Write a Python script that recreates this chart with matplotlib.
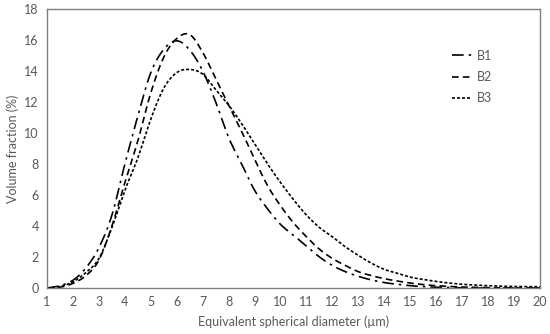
import matplotlib
matplotlib.use("Agg")
import matplotlib.pyplot as plt
import numpy as np

x = [1, 1.5, 2, 2.5, 3, 3.5, 4, 4.5, 5, 5.5, 6, 6.5, 7, 7.5, 8, 8.5, 9, 9.5, 10,
     10.5, 11, 11.5, 12, 12.5, 13, 13.5, 14, 14.5, 15, 15.5, 16, 16.5, 17, 17.5,
     18, 18.5, 19, 19.5, 20]
b1 = [0, 0.15, 0.5, 1.3, 2.6, 4.7, 8.0, 11.1, 13.9, 15.4, 15.95, 15.35, 14.0, 12.0,
      9.7, 8.0, 6.3, 5.1, 4.1, 3.4, 2.7, 2.0, 1.45, 1.05, 0.75, 0.52, 0.35, 0.24,
      0.15, 0.09, 0.05, 0.03, 0.01, 0, 0, 0, 0, 0, 0]
b2 = [0, 0.05, 0.3, 0.8, 1.8, 4.0, 6.8, 9.5, 12.6, 14.9, 16.1, 16.35, 15.2, 13.5,
      11.8, 10.1, 8.3, 6.6, 5.3, 4.2, 3.3, 2.5, 1.9, 1.45, 1.05, 0.8, 0.6, 0.45,
      0.32, 0.22, 0.15, 0.1, 0.06, 0.04, 0.02, 0.01, 0, 0, 0]
b3 = [0, 0.1, 0.4, 1.0, 1.9, 3.9, 6.3, 8.4, 10.9, 12.9, 13.9, 14.1, 13.8, 12.8,
      11.8, 10.6, 9.3, 8.0, 6.8, 5.7, 4.7, 3.9, 3.3, 2.65, 2.1, 1.6, 1.2, 0.95,
      0.7, 0.55, 0.42, 0.32, 0.24, 0.19, 0.15, 0.12, 0.1, 0.09, 0.08]
labels = ["B1", "B2", "B3"]
xticks = list(range(1, 21))
yticks = list(range(0, 19, 2))


def smooth(xs, ys, n=12):
    """Catmull-Rom smoothing through the given points (like a spreadsheet smoothed line)."""
    P = np.column_stack([xs, ys]).astype(float)
    P = np.vstack([2 * P[0] - P[1], P, 2 * P[-1] - P[-2]])
    out = []
    t = np.linspace(0, 1, n, endpoint=False)[:, None]
    for i in range(1, len(P) - 2):
        p0, p1, p2, p3 = P[i - 1], P[i], P[i + 1], P[i + 2]
        seg = 0.5 * ((2 * p1) + (-p0 + p2) * t + (2 * p0 - 5 * p1 + 4 * p2 - p3) * t ** 2
                     + (-p0 + 3 * p1 - 3 * p2 + p3) * t ** 3)
        out.append(seg)
    out.append(P[-2][None, :])
    S = np.vstack(out)
    return S[:, 0], np.clip(S[:, 1], 0, None)


plt.rcParams['font.family'] = ['Lato', 'DejaVu Sans']
fig = plt.figure(figsize=(5.5, 3.34), dpi=100)
ax = fig.add_axes([0.0855, 0.1377, 0.8965, 0.8353])

styles = [(0, (7, 3, 1.5, 3)), (0, (4, 2.5)), (0, (1.8, 1.2))]
for ys, lab, ls in zip([b1, b2, b3], labels, styles):
    sx, sy = smooth(x, ys)
    ax.plot(sx, sy, color='black', lw=1.2, linestyle=ls, label=lab)

ax.set_xlim(1, 20)
ax.set_ylim(0, 18)
ax.set_xticks(xticks)
ax.set_yticks(yticks)
ax.tick_params(length=0, labelsize=9, labelcolor='#595959', pad=6)
for s in ax.spines.values():
    s.set_color('#7f7f7f')
    s.set_linewidth(1.0)
ax.set_xlabel('Equivalent spherical diameter (µm)', fontsize=9, color='#595959', labelpad=5)
ax.set_ylabel('Volume fraction (%)', fontsize=9, color='#595959', labelpad=4)

leg = ax.legend(loc='upper right', bbox_to_anchor=(0.925, 0.895), frameon=False,
                fontsize=9, handlelength=1.6, handletextpad=0.4, labelspacing=0.75)
for t in leg.get_texts():
    t.set_color('#595959')

fig.savefig('out.png', dpi=100)
